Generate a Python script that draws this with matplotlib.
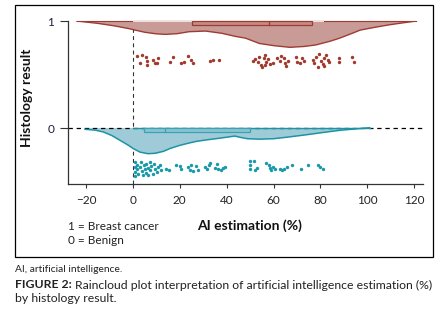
import matplotlib
matplotlib.use("Agg")
import matplotlib.pyplot as plt
import matplotlib.patches as mpatches

plt.rcParams["font.family"] = ["Lato", "DejaVu Sans"]

# density outlines (x, boundary y)
red_x = [-24, -15, -8, -2, 5, 10, 14, 19, 24, 31, 38, 44, 48, 54, 60, 67,
         73, 78, 84, 88, 93, 97, 103, 109, 115, 121]
red_y = [1.0, 0.978, 0.955, 0.93, 0.895, 0.88, 0.875, 0.882, 0.90, 0.906,
         0.885, 0.855, 0.84, 0.79, 0.77, 0.754, 0.762, 0.776, 0.81, 0.838,
         0.88, 0.915, 0.94, 0.963, 0.982, 1.0]
blue_x = [-20.4, -16, -12.6, -9, -5.5, -2, 0, 3, 6.5, 9.5, 13, 16, 20, 24,
          27, 31, 36, 40, 43.5, 46, 49, 54, 60, 66, 74, 81, 88, 95, 101]
blue_y = [-0.012, -0.02, -0.037, -0.07, -0.115, -0.16, -0.19, -0.225, -0.24,
          -0.236, -0.218, -0.19, -0.162, -0.14, -0.125, -0.112, -0.098,
          -0.086, -0.075, -0.088, -0.1, -0.104, -0.10, -0.085, -0.063,
          -0.042, -0.022, -0.008, 0.003]

# boxplot stats: q1, median, q3, whisker lo, whisker hi
red_box = [25.1, 58.0, 76.6, 0.5, 81.0]
blue_box = [4.8, 13.9, 49.8, 0.0, 80.0]

# jittered raw points
red_px = [1.6, 3.7, 5.5, 6.1, 6.1, 3.0, 8.6, 9.4, 10.8, 10.1, 15.7, 16.9,
          20.7, 21.7, 23.5, 25.0, 25.6, 32.8, 34.2, 36.7,
          51.2, 52.2, 53.3, 54.0, 54.8, 55.0, 55.9, 56.2, 56.9, 57.6, 56.5,
          58.3, 59.7, 61.6, 62.6, 63.3, 64.4, 64.7, 65.4, 66.1, 69.7, 70.1,
          71.1, 72.0, 72.9, 76.7, 77.4, 78.2, 78.9, 79.6, 80.3, 81.0, 81.4,
          82.4, 83.1, 83.8, 81.7, 88.1, 88.1, 93.7, 94.2]
red_py = [0.676, 0.682, 0.667, 0.63, 0.59, 0.605, 0.64, 0.61, 0.65, 0.605,
          0.62, 0.667, 0.605, 0.62, 0.673, 0.636, 0.61, 0.63, 0.64, 0.636,
          0.629, 0.645, 0.62, 0.667, 0.589, 0.573, 0.651, 0.682, 0.62, 0.645,
          0.589, 0.595, 0.605, 0.657, 0.626, 0.676, 0.651, 0.605, 0.582,
          0.626, 0.667, 0.62, 0.605, 0.651, 0.626, 0.636, 0.605, 0.667,
          0.573, 0.689, 0.626, 0.595, 0.657, 0.682, 0.636, 0.62, 0.582,
          0.651, 0.614, 0.667, 0.62]
blue_px = [0.85, 0.85, 0.85, 0.85, 1.8, 1.8, 2.3, 3.0, 3.3, 3.7, 4.1, 4.7,
           5.1, 5.5, 5.8, 6.5, 6.5, 7.2, 7.5, 7.9, 8.4, 8.9, 9.4, 10.1, 10.8,
           11.5, 12.2, 14.3, 15.4, 18.6, 20.0, 20.7, 23.5, 24.3, 25.0, 25.7,
           27.1, 27.8, 30.6, 31.6, 32.5, 32.8, 34.9, 36.0, 36.3, 37.4, 38.4,
           39.4, 49.8, 49.8, 49.8, 51.6, 51.9, 53.1, 56.9, 57.9, 58.7, 59.0,
           59.7, 60.7, 62.6, 63.5, 64.4, 65.8, 67.8, 71.8, 74.9, 78.9, 80.0,
           81.0]
blue_py = [-0.318, -0.364, -0.411, -0.449, -0.343, -0.386, -0.427, -0.364,
           -0.318, -0.405, -0.442, -0.349, -0.386, -0.417, -0.333, -0.374,
           -0.436, -0.318, -0.396, -0.355, -0.427, -0.333, -0.380, -0.411,
           -0.364, -0.343, -0.396, -0.380, -0.396, -0.343, -0.355, -0.380,
           -0.364, -0.396, -0.349, -0.405, -0.355, -0.396, -0.364, -0.380,
           -0.343, -0.324, -0.374, -0.333, -0.386, -0.396, -0.374, -0.364,
           -0.311, -0.349, -0.386, -0.311, -0.396, -0.374, -0.324, -0.349,
           -0.374, -0.396, -0.364, -0.380, -0.386, -0.396, -0.386, -0.364,
           -0.349, -0.386, -0.349, -0.343, -0.364, -0.380]

x_ticks = [-20, 0, 20, 40, 60, 80, 100, 120]
y_ticks = [0, 1]

RED_FILL, RED_EDGE, RED_DOT = "#c99b97", "#9e3b33", "#a3382c"
BLUE_FILL, BLUE_EDGE, BLUE_DOT = "#9fcbd9", "#1b94a4", "#1a9aa9"

fig = plt.figure(figsize=(4.44, 3.21), dpi=100)
ax = fig.add_axes([68 / 444, 1 - 184 / 321, 355 / 444, 163 / 321])
ax.set_xlim(-27.7, 123.8)
ax.set_ylim(-0.523, 1.0)

# reference lines
ax.axhline(0, color="black", lw=0.9, ls=(0, (3.5, 3)), zorder=2)
ax.plot([0, 0], [-0.523, 1.0], color="#333333", lw=0.8,
        ls=(0, (3.5, 3)), zorder=1)

# clouds
ax.fill_between(red_x, red_y, 1.0, facecolor=RED_FILL, edgecolor="none",
                zorder=3, clip_on=False)
ax.plot(red_x, red_y, color=RED_EDGE, lw=1.0, zorder=4)
ax.plot([red_x[0], red_box[3]], [1.0, 1.0], color=RED_EDGE, lw=0.8,
        zorder=4, clip_on=False)
ax.plot([red_box[4], red_x[-1]], [1.0, 1.0], color=RED_EDGE, lw=0.8,
        zorder=4, clip_on=False)
ax.plot([red_box[3], red_box[4]], [0.996, 0.996], color="#f1e2e1",
        lw=1.4, zorder=4, clip_on=False)

ax.fill_between(blue_x, blue_y, 0.0, facecolor=BLUE_FILL, edgecolor="none",
                zorder=1.5)
ax.plot(blue_x, blue_y, color=BLUE_EDGE, lw=1.1, zorder=4)
ax.plot([0, blue_x[-1]], [0, 0], color=BLUE_EDGE, lw=1.0, zorder=4)

# boxes
for (q1, med, q3, lo, hi), y0, face, edge in [
        (red_box, 0.96, "#c58c87", RED_EDGE),
        (blue_box, -0.04, "#8cc3d3", "#3aa3b3")]:
    rect = mpatches.Rectangle((q1, y0), q3 - q1, 0.04, facecolor=face,
                              edgecolor=edge, lw=0.9, zorder=5)
    ax.add_patch(rect)
    ax.plot([med, med], [y0, y0 + 0.04], color=edge, lw=0.9, zorder=6)

# rain
ax.scatter(red_px, red_py, s=6, color=RED_DOT, lw=0, zorder=5)
ax.scatter(blue_px, blue_py, s=6, color=BLUE_DOT, lw=0, zorder=5)

for side in ["top", "right"]:
    ax.spines[side].set_visible(False)
ax.spines["left"].set_bounds(-0.523, 1.0)
for side in ["left", "bottom"]:
    ax.spines[side].set_color("#333333")
    ax.spines[side].set_linewidth(0.9)

ax.set_xticks(x_ticks)
ax.set_xticklabels([str(t).replace("-", "\u2212") for t in x_ticks])
ax.set_yticks(y_ticks)
ax.tick_params(axis="x", length=3, width=0.8, labelsize=8.5, pad=5,
               colors="#333333", labelcolor="#222222")
ax.tick_params(axis="y", length=6, width=0.8, labelsize=8.5, pad=4,
               colors="#333333", labelcolor="#1c1c3c")

ax.set_ylabel("Histology result", fontsize=10, fontweight="bold",
              color="#111111")
ax.yaxis.set_label_coords(-35 / 355, (184 - 98) / 163)
fig.text(250 / 444, 1 - 226 / 321, "AI estimation (%)", fontsize=10,
         fontweight="bold", ha="center", va="center", color="#111111")
fig.text(68 / 444, 1 - 226 / 321, "1 = Breast cancer", fontsize=8.5,
         ha="left", va="center", color="#222222")
fig.text(68 / 444, 1 - 241 / 321, "0 = Benign", fontsize=8.5,
         ha="left", va="center", color="#222222")

# frame round the chart
frame = mpatches.Rectangle((15 / 444, 1 - 257 / 321), 418 / 444,
                           252 / 321, transform=fig.transFigure,
                           fill=False, edgecolor="black", lw=0.9)
fig.patches.append(frame)

# caption
fig.text(15 / 444, 1 - 270 / 321, "AI, artificial intelligence.",
         fontsize=7.4, ha="left", va="center", color="#222222")
bold = fig.text(15 / 444, 1 - 285 / 321, "FIGURE 2:", fontsize=8.8,
                fontweight="bold", ha="left", va="center", color="#222222")
renderer = fig.canvas.get_renderer()
bb = bold.get_window_extent(renderer)
fig.text(bb.x1 / fig.bbox.width + 3 / 444, 1 - 285 / 321,
         "Raincloud plot interpretation of artificial intelligence "
         "estimation (%)", fontsize=8.8, ha="left", va="center",
         color="#222222")
fig.text(15 / 444, 1 - 298 / 321, "by histology result.", fontsize=8.8,
         ha="left", va="center", color="#222222")

fig.savefig("out.png", dpi=100)
plt.close(fig)
